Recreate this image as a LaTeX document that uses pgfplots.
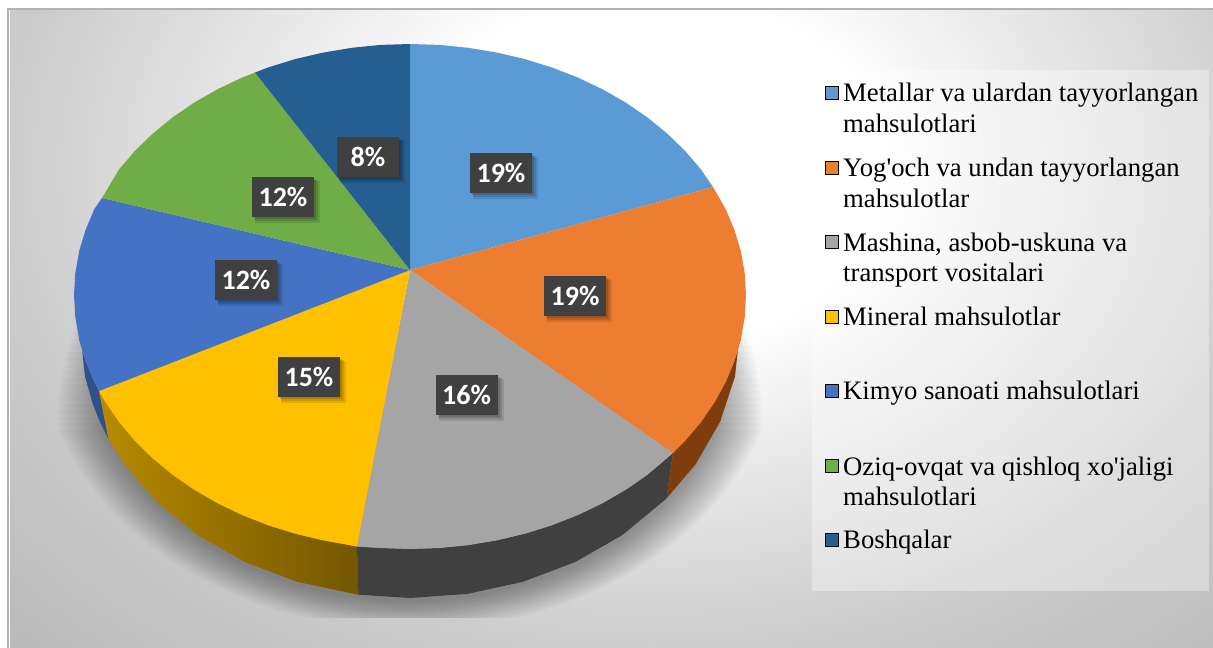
\documentclass[border=0pt]{standalone}
\usepackage{fontspec}
\setmainfont{Liberation Serif}[Ligatures=TeXOff]
\newfontfamily\lab{Carlito}[Ligatures=TeXOff]
\usepackage{pgfplots}
\pgfplotsset{compat=1.18}
\pgfdeclareradialshading{panelbg}{\pgfpointorigin}{color(0bp)=(white); color(9bp)=(white); color(16bp)=(white!91!black); color(21bp)=(white!85!black); color(25bp)=(white!80!black); color(35bp)=(white!73!black); color(50bp)=(white!73!black)}
\definecolor{c1}{HTML}{5B9BD5}
\definecolor{c2}{HTML}{ED7D31}
\definecolor{c3}{HTML}{A5A5A5}
\definecolor{c4}{HTML}{FFC000}
\definecolor{c5}{HTML}{4472C4}
\definecolor{c6}{HTML}{70AD47}
\definecolor{c7}{HTML}{255E91}
\definecolor{w2}{HTML}{7F3D0E}
\newcommand{\pct}[3]{%
  \fill[black,opacity=.10] (axis cs:#1-28,#2-16) rectangle (axis cs:#1+37,#2+26);
  \fill[black,opacity=.12] (axis cs:#1-28,#2-17) rectangle (axis cs:#1+35,#2+24);
  \fill[black,opacity=.15] (axis cs:#1-29,#2-18) rectangle (axis cs:#1+33,#2+22);
  \node[fill=black!75,text=white,font=\lab\bfseries\fontsize{28}{28}\selectfont,minimum width=62pt,minimum height=40pt,inner sep=0pt,anchor=center] at (axis cs:#1,#2) {#3};}
\newcommand{\leg}[2]{\node[anchor=base west,inner sep=0pt,font=\fontsize{26.7}{26.7}\selectfont,text=black] at (axis cs:843,#1) {#2};}
\begin{document}
\begin{tikzpicture}[x=1pt,y=1pt]
\useasboundingbox (0,0) rectangle (1213,648);
\begin{axis}[at={(0,0)},anchor=south west,scale only axis,width=1213pt,height=648pt,
  xmin=0,xmax=1213,ymin=0,ymax=648,y dir=reverse,hide axis,clip=true]
% panel
\fill[shading=panelbg] (axis cs:10,-310) rectangle (axis cs:1290,650);
\fill[white] (axis cs:0,0) rectangle (axis cs:7,648);
\fill[white] (axis cs:0,0) rectangle (axis cs:1213,8);
\draw[black!30,line width=1.6pt] (axis cs:8,648) -- (axis cs:8,9) -- (axis cs:1213,9);
% legend panel
\fill[white,opacity=.35] (axis cs:812,70) rectangle (axis cs:1209,591);
% cast shadow
\pgfplotsinvokeforeach{0,...,19}{
  \begin{scope}
  \clip (axis cs:55,{430-6.5*#1}) rectangle (axis cs:767,617);
  \fill[black,opacity=.02] (axis cs:410,335) ellipse [x radius={372-2.3*#1}, y radius={295-1.5*#1}];
  \end{scope}
}
% side walls
\addplot[draw=none,fill=c5!70!black] coordinates {(99,391) (94.3,381.9) (85.5,360.7) (79.1,339.1) (80,330) (85,376.5) (92.8,404) (99.9,421.7) (108.5,439)} -- cycle;
\addplot[draw=none,left color=c4!72!black,right color=c4!45!black] coordinates {(99,391) (105.5,402.3) (119,422) (134.8,440.7) (152.6,458.3) (172.4,474.6) (194,489.6) (217.3,503.1) (242,515) (268,525.2) (295.1,533.7) (323,540.3) (357,546.5) (358.4,594.7) (297.1,581.8) (245,562.1) (197.9,535.3) (157.2,502.3) (124.2,464) (108.5,439)} -- cycle;
\addplot[draw=none,fill=black!75] coordinates {(357,546.5) (380.7,548) (410,549) (439.3,548) (468.3,545.1) (497,540.3) (524.9,533.7) (552,525.2) (578,515) (602.7,503.1) (626,489.6) (647.6,474.6) (673,453) (666.4,498.6) (622.1,535.3) (575,562.1) (522.9,581.8) (467.3,593.9) (410,598) (358.4,594.7)} -- cycle;
\addplot[draw=none,fill=w2] coordinates {(673,453) (685.2,440.7) (701,422) (714.5,402.3) (725.7,381.9) (734.5,360.7) (740.9,339.1) (740,330) (735,376.5) (720.1,421.7) (695.8,464) (666.4,498.6)} -- cycle;
% slices
\addplot[draw=none,fill=c1] coordinates {(410,270) (410,44) (439.3,44.9) (468.3,47.8) (497,52.6) (524.9,59.1) (552,67.5) (578,77.6) (602.7,89.4) (626,102.7) (647.6,117.5) (667.4,133.7) (685.2,151) (701,169.5) (713,187)} -- cycle;
\addplot[draw=none,fill=c2] coordinates {(410,270) (713,187) (725.7,209.2) (734.5,230) (740.9,251.4) (744.7,273.1) (746,295) (744.7,317.1) (740.9,339.1) (734.5,360.7) (725.7,381.9) (714.5,402.3) (701,422) (685.2,440.7) (673,453)} -- cycle;
\addplot[draw=none,fill=c3] coordinates {(410,270) (673,453) (647.6,474.6) (626,489.6) (602.7,503.1) (578,515) (552,525.2) (524.9,533.7) (497,540.3) (468.3,545.1) (439.3,548) (410,549) (380.7,548) (357,546.5)} -- cycle;
\addplot[draw=none,fill=c4] coordinates {(410,270) (357,546.5) (323,540.3) (295.1,533.7) (268,525.2) (242,515) (217.3,503.1) (194,489.6) (172.4,474.6) (152.6,458.3) (134.8,440.7) (119,422) (105.5,402.3) (99,391)} -- cycle;
\addplot[draw=none,fill=c5] coordinates {(410,270) (99,391) (94.3,381.9) (85.5,360.7) (79.1,339.1) (75.3,317.1) (74,295) (75.3,273.1) (79.1,251.4) (85.5,230) (94.3,209.2) (102,198)} -- cycle;
\addplot[draw=none,fill=c6] coordinates {(410,270) (102,198) (119,169.5) (134.8,151) (152.6,133.7) (172.4,117.5) (194,102.7) (217.3,89.4) (242,77.6) (255,72.5)} -- cycle;
\addplot[draw=none,fill=c7] coordinates {(410,270) (255,72.5) (268,67.5) (295.1,59.1) (323,52.6) (351.7,47.8) (380.7,44.9) (410,44)} -- cycle;
% value labels
\pct{501}{173}{19\%}
\pct{575}{296}{19\%}
\pct{466.5}{395}{16\%}
\pct{309}{377}{15\%}
\pct{246}{280}{12\%}
\pct{283}{197}{12\%}
\pct{368}{157}{8\%}
% legend
\addplot[only marks,mark=square*,mark size=6.5pt,draw=none,mark options={draw=none,fill=c1}] coordinates {(831.5,93)};
\addplot[only marks,mark=square*,mark size=6.5pt,draw=none,mark options={draw=none,fill=c2}] coordinates {(831.5,168)};
\addplot[only marks,mark=square*,mark size=6.5pt,draw=none,mark options={draw=none,fill=c3}] coordinates {(831.5,242)};
\addplot[only marks,mark=square*,mark size=6.5pt,draw=none,mark options={draw=none,fill=c4}] coordinates {(831.5,317)};
\addplot[only marks,mark=square*,mark size=6.5pt,draw=none,mark options={draw=none,fill=c5}] coordinates {(831.5,391)};
\addplot[only marks,mark=square*,mark size=6.5pt,draw=none,mark options={draw=none,fill=c6}] coordinates {(831.5,466)};
\addplot[only marks,mark=square*,mark size=6.5pt,draw=none,mark options={draw=none,fill=c7}] coordinates {(831.5,540)};
\leg{101}{Metallar va ulardan tayyorlangan}
\leg{132}{mahsulotlari}
\leg{176}{Yog'och va undan tayyorlangan}
\leg{207}{mahsulotlar}
\leg{251}{Mashina, asbob-uskuna va}
\leg{281}{transport vositalari}
\leg{325}{Mineral mahsulotlar}
\leg{399}{Kimyo sanoati mahsulotlari}
\leg{475}{Oziq-ovqat va qishloq xo'jaligi}
\leg{505}{mahsulotlari}
\leg{548}{Boshqalar}
\end{axis}
\end{tikzpicture}
\end{document}
